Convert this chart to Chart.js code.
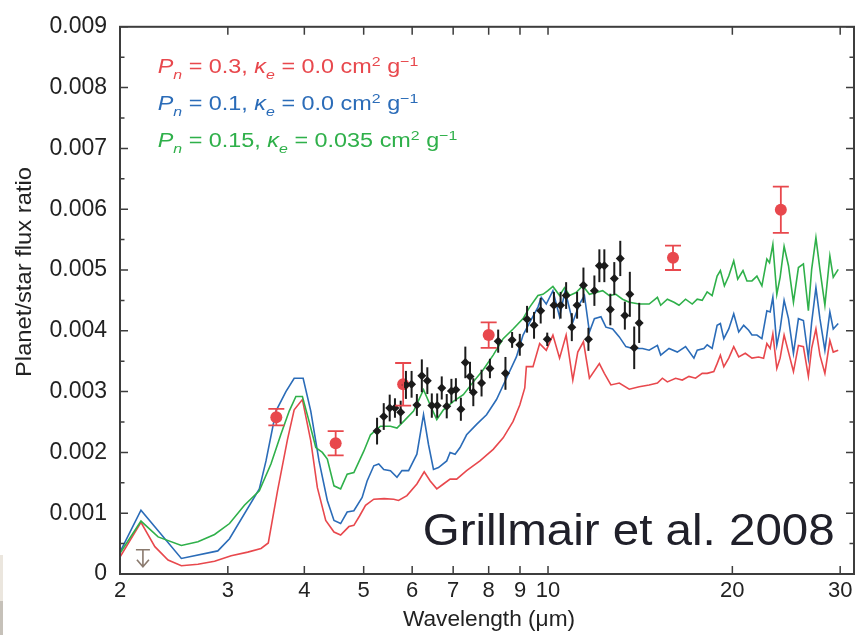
<!DOCTYPE html>
<html>
<head>
<meta charset="utf-8">
<script src="https://cdn.jsdelivr.net/npm/chart.js@4.4.0/dist/chart.umd.min.js"></script>
<style>
  html, body { margin: 0; padding: 0; background: #fff; }
  #wrap { position: relative; width: 860px; height: 635px; }
  canvas { display: block; }
  .edge1 { position: absolute; left: 0; top: 555px; width: 3px; height: 46px; background: #ebe6de; }
  .edge2 { position: absolute; left: 0; top: 601px; width: 3px; height: 34px; background: #c6c1b9; }
</style>
</head>
<body>
<div id="wrap">
  <canvas id="c" width="860" height="635"></canvas>
  <div class="edge1"></div><div class="edge2"></div>
</div>
<script>
// model spectra (wavelength in micron, planet/star flux ratio)
const redWl = [2.00,2.164,2.28,2.396,2.519,2.681,2.854,3.038,3.233,3.399,3.493,3.617,3.754,3.85,3.971,4.098,4.201,4.335,4.472,4.585,4.73,4.819,4.92,5.035,5.194,5.40,5.597,5.70,5.883,6.107,6.278,6.421,6.582,6.749,6.92,7.093,7.363,7.742,8.137,8.448,8.77,8.993,9.163,9.218,9.451,9.691,9.934,10.186,10.444,10.705,10.977,11.184,11.425,11.685,12.13,12.359,12.668,13.074,13.572,14.09,14.627,15.089,15.374,15.664,16.157,16.568,16.989,17.414,17.856,18.193,18.654,18.887,19.12,19.367,19.732,20.104,20.484,20.996,21.529,22.075,22.493,22.772,23.056,23.29,23.64,23.935,24.297,24.699,25.165,25.641,26.125,26.618,26.948,27.385,27.799,28.324,28.859,29.228,29.78];
const redFlux = [0.00028,0.00085,0.00045,0.00023,0.000135,0.00016,0.00021,0.0003,0.00036,0.00042,0.00051,0.00137,0.00221,0.0027,0.00287,0.00219,0.00142,0.00088,0.00069,0.00064,0.00078,0.0008,0.00095,0.00113,0.00123,0.00124,0.00123,0.00121,0.00129,0.00148,0.00168,0.00153,0.0014,0.00148,0.00156,0.00156,0.0017,0.00186,0.00205,0.00224,0.00251,0.00278,0.00306,0.00341,0.00341,0.00379,0.00368,0.00393,0.00355,0.00393,0.00319,0.00365,0.00382,0.00322,0.00346,0.0033,0.00311,0.00314,0.00304,0.00308,0.00311,0.00314,0.00322,0.00316,0.00322,0.00319,0.00325,0.00322,0.0033,0.0033,0.00333,0.00346,0.0036,0.00341,0.00355,0.00374,0.00357,0.00363,0.00355,0.00357,0.00355,0.00379,0.00371,0.00395,0.00338,0.00355,0.00393,0.00365,0.00333,0.00376,0.00374,0.00325,0.00371,0.00403,0.0036,0.0033,0.00384,0.00365,0.00368];

const blueWl = [2.00,2.164,2.519,2.889,3.019,3.377,3.463,3.595,3.732,3.85,3.982,4.098,4.227,4.361,4.472,4.585,4.699,4.819,4.971,5.065,5.194,5.292,5.392,5.529,5.667,5.774,5.92,6.107,6.262,6.38,6.501,6.624,6.833,6.92,7.051,7.184,7.363,7.644,7.936,8.239,8.553,8.879,9.104,9.335,9.629,9.749,9.934,10.186,10.444,10.665,10.977,11.256,11.468,11.685,11.905,12.203,12.433,12.75,13.074,13.401,13.74,14.266,14.627,15.089,15.276,15.763,16.261,16.773,17.309,17.525,17.969,18.193,18.537,18.887,19.12,19.367,19.732,20.104,20.484,20.87,21.265,21.529,21.935,22.35,22.772,23.056,23.29,23.64,23.935,24.297,24.699,25.165,25.641,26.125,26.618,26.948,27.385,27.799,28.324,28.859,29.228,29.78];
const blueFlux = [0.00036,0.00105,0.000256,0.00038,0.00058,0.0014,0.00186,0.00268,0.0030,0.00322,0.00322,0.00268,0.00186,0.00121,0.00088,0.00083,0.00102,0.00104,0.00126,0.00153,0.00178,0.00181,0.00172,0.0017,0.00159,0.0017,0.0017,0.00197,0.00262,0.00213,0.00172,0.00175,0.00186,0.002,0.00197,0.00208,0.00229,0.00246,0.00262,0.00287,0.00322,0.00357,0.00393,0.00414,0.00439,0.00455,0.00444,0.00466,0.00423,0.00466,0.00414,0.00444,0.00458,0.00398,0.0042,0.00423,0.00406,0.00403,0.0039,0.00374,0.00371,0.00371,0.00368,0.00376,0.0036,0.00371,0.00365,0.00374,0.00355,0.00368,0.00371,0.00377,0.00371,0.00409,0.00412,0.00387,0.00403,0.00428,0.00398,0.00409,0.00401,0.00393,0.00393,0.00387,0.00433,0.00431,0.00455,0.00376,0.00403,0.0045,0.0042,0.00363,0.0042,0.00417,0.00355,0.00414,0.00471,0.0042,0.00368,0.00431,0.00403,0.00412];

const greenWl = [2.00,2.164,2.308,2.519,2.681,2.854,3.019,3.193,3.377,3.528,3.663,3.779,3.875,3.971,4.072,4.176,4.28,4.361,4.472,4.585,4.699,4.819,5.002,5.13,5.325,5.529,5.667,5.81,6.032,6.262,6.421,6.582,6.749,7.006,7.273,7.551,7.838,8.137,8.448,8.77,9.104,9.335,9.629,9.811,9.996,10.186,10.444,10.641,10.843,11.114,11.395,11.685,11.977,12.281,12.592,12.907,13.235,13.572,14.09,14.627,15.089,15.276,15.664,16.06,16.364,16.773,17.199,17.525,17.856,18.193,18.537,18.887,19.12,19.41,19.732,20.104,20.408,20.817,21.13,21.529,21.935,22.35,22.772,23.0,23.29,23.64,23.935,24.297,24.699,25.165,25.641,26.125,26.618,26.948,27.385,27.799,28.324,28.859,29.228,29.78];
const greenFlux = [0.00034,0.00087,0.00061,0.00047,0.00053,0.00065,0.00083,0.00113,0.00137,0.00181,0.0023,0.00268,0.00292,0.00292,0.00251,0.00208,0.002,0.00189,0.00145,0.0014,0.00164,0.00167,0.00202,0.00229,0.00243,0.00243,0.0024,0.00251,0.00268,0.00303,0.00278,0.00254,0.0027,0.00284,0.00295,0.00316,0.00336,0.0036,0.00387,0.00403,0.0042,0.00439,0.00458,0.0046,0.00466,0.00473,0.00458,0.00471,0.00458,0.00463,0.00474,0.0046,0.00463,0.00466,0.00458,0.0046,0.00452,0.00447,0.00444,0.00444,0.00455,0.00442,0.00452,0.00447,0.00442,0.00452,0.00444,0.00452,0.0045,0.00464,0.00458,0.0049,0.00499,0.00474,0.0049,0.00515,0.00485,0.00499,0.00482,0.00482,0.0049,0.00474,0.00518,0.00512,0.00542,0.0046,0.00488,0.00539,0.00507,0.00447,0.00504,0.0051,0.00433,0.00501,0.00553,0.00501,0.00442,0.00523,0.00488,0.00501];

// IRS spectrum points
const irsWl = [5.258,5.392,5.514,5.624,5.746,5.861,5.987,6.107,6.222,6.352,6.46,6.592,6.706,6.833,6.954,7.072,7.206,7.328,7.458,7.551,7.789,8.038,8.291,8.521,8.737,8.993,9.242,9.488,9.728,9.971,10.224,10.484,10.705,10.936,11.155,11.425,11.641,11.905,12.13,12.359,12.641,12.83,13.122,13.35,13.602,13.828,14.09];
const irsFlux = [0.00235,0.00259,0.00273,0.00273,0.00266,0.00311,0.00312,0.00278,0.00326,0.00318,0.00277,0.00277,0.00306,0.00276,0.00301,0.00303,0.00271,0.00348,0.00325,0.00299,0.00314,0.00338,0.00383,0.0033,0.00385,0.00377,0.00419,0.00409,0.00433,0.00386,0.00442,0.00442,0.00458,0.00406,0.00442,0.00475,0.00386,0.00466,0.00507,0.00507,0.00435,0.00486,0.00519,0.00425,0.0046,0.00372,0.00413];
const irsErr = [0.00022,0.00022,0.00022,0.00016,0.00019,0.00023,0.00022,0.00018,0.00027,0.00022,0.0002,0.0002,0.00019,0.0002,0.0002,0.00019,0.00019,0.00026,0.00024,0.00023,0.00022,0.00016,0.00019,0.00027,0.00013,0.00018,0.00022,0.00022,0.00021,0.00011,0.00022,0.00022,0.00022,0.00023,0.00022,0.00029,0.00019,0.00025,0.00027,0.00027,0.00026,0.00027,0.00029,0.00023,0.00037,0.00035,0.00033];

// broadband photometry
const photWl = [3.6, 4.5, 5.8, 8.0, 16, 24];
const photFlux = [0.00258, 0.00215, 0.00312, 0.00393, 0.0052, 0.00599];
const photErr = [0.000135, 0.0002, 0.00035, 0.00021, 0.0002, 0.00038];

// 2.2 micron upper limit
const ulWl = [2.18];
const ulFlux = [0.0004];
const ulTip = [0.00012];

const xTicks = [2, 3, 4, 5, 6, 7, 8, 9, 10, 20, 30];
const legendPn = ['0.3', '0.1', '0.15'];
const legendKe = ['0.0', '0.0', '0.035'];

const RED = '#e8484d', BLUE = '#2b6cb8', GREEN = '#2fb04a', BLACK = '#1b1b1b';
const FONT = '"Liberation Sans", Arial, Helvetica, sans-serif';

Chart.defaults.font.family = FONT;
Chart.defaults.color = '#222';

const pts = (xs, ys) => xs.map((x, i) => ({ x: x, y: ys[i] }));

function drawRuns(ctx, x, y, runs, color, size, sx) {
  ctx.save();
  ctx.translate(x, y);
  ctx.scale(sx, 1);
  ctx.fillStyle = color;
  ctx.textBaseline = 'alphabetic';
  ctx.textAlign = 'left';
  let cx = 0;
  runs.forEach(r => {
    const small = r.sub || r.sup;
    const fs = small ? size * 0.68 : size;
    ctx.font = (r.it ? 'italic ' : '') + fs + 'px ' + FONT;
    const dy = r.sub ? size * 0.32 : (r.sup ? -size * 0.36 : 0);
    ctx.fillText(r.t, cx, dy);
    cx += ctx.measureText(r.t).width;
  });
  ctx.restore();
}

const decorations = {
  id: 'decorations',
  afterDatasetsDraw(chart) {
    const ctx = chart.ctx, x = chart.scales.x, y = chart.scales.y;
    ctx.save();
    // IRS error bars
    ctx.strokeStyle = BLACK;
    ctx.lineWidth = 2;
    irsWl.forEach((w, i) => {
      const px = x.getPixelForValue(w);
      ctx.beginPath();
      ctx.moveTo(px, y.getPixelForValue(irsFlux[i] + irsErr[i]));
      ctx.lineTo(px, y.getPixelForValue(irsFlux[i] - irsErr[i]));
      ctx.stroke();
    });
    // photometry error bars with caps
    ctx.strokeStyle = RED;
    ctx.lineWidth = 1.8;
    photWl.forEach((w, i) => {
      const px = x.getPixelForValue(w);
      const t = y.getPixelForValue(photFlux[i] + photErr[i]);
      const b = y.getPixelForValue(photFlux[i] - photErr[i]);
      ctx.beginPath();
      ctx.moveTo(px, t); ctx.lineTo(px, b);
      ctx.moveTo(px - 8, t); ctx.lineTo(px + 8, t);
      ctx.moveTo(px - 8, b); ctx.lineTo(px + 8, b);
      ctx.stroke();
    });
    // upper limit arrow
    ctx.strokeStyle = '#8a7a6e';
    ctx.lineWidth = 1.6;
    ulWl.forEach((w, i) => {
      const px = x.getPixelForValue(w);
      const t = y.getPixelForValue(ulFlux[i]);
      const b = y.getPixelForValue(ulTip[i]);
      ctx.beginPath();
      ctx.moveTo(px - 7, t); ctx.lineTo(px + 7, t);
      ctx.moveTo(px, t); ctx.lineTo(px, b);
      ctx.moveTo(px - 6, b - 7); ctx.lineTo(px, b); ctx.lineTo(px + 6, b - 7);
      ctx.stroke();
    });
    ctx.restore();
  },
  afterDraw(chart) {
    const ctx = chart.ctx, x = chart.scales.x, y = chart.scales.y;
    const a = chart.chartArea;
    ctx.save();
    // frame
    ctx.strokeStyle = '#3d3d3d';
    ctx.lineWidth = 2;
    ctx.strokeRect(a.left, a.top, a.right - a.left, a.bottom - a.top);
    // inward ticks
    ctx.lineWidth = 1.5;
    ctx.beginPath();
    for (let i = 0; i <= 18; i++) {
      const py = y.getPixelForValue(i * 0.0005);
      const len = i % 2 === 0 ? 8 : 4.5;
      ctx.moveTo(a.left, py); ctx.lineTo(a.left + len, py);
      ctx.moveTo(a.right, py); ctx.lineTo(a.right - len, py);
    }
    xTicks.forEach(v => {
      const px = x.getPixelForValue(v);
      ctx.moveTo(px, a.bottom); ctx.lineTo(px, a.bottom - 8);
      ctx.moveTo(px, a.top); ctx.lineTo(px, a.top + 8);
    });
    ctx.stroke();

    // axis titles
    ctx.fillStyle = '#222';
    ctx.font = '22px ' + FONT;
    ctx.textAlign = 'center';
    ctx.textBaseline = 'middle';
    ctx.save();
    ctx.translate(489, 620);
    ctx.scale(1.03, 1);
    ctx.fillText('Wavelength (μm)', 0, 0);
    ctx.restore();
    ctx.save();
    ctx.translate(25, 272);
    ctx.rotate(-Math.PI / 2);
    ctx.scale(1.08, 1);
    ctx.fillText('Planet/star flux ratio', 0, 0);
    ctx.restore();

    // model labels
    const colors = [RED, BLUE, GREEN];
    const baselines = [72.7, 110, 146.7];
    legendPn.forEach((pn, i) => {
      const runs = [
        { t: 'P', it: true }, { t: 'n', it: true, sub: true },
        { t: ' = ' + pn + ', ' }, { t: 'κ', it: true }, { t: 'e', it: true, sub: true },
        { t: ' = ' + legendKe[i] + ' cm' }, { t: '2', sup: true },
        { t: ' g' }, { t: '−1', sup: true }
      ];
      drawRuns(ctx, 157.7, baselines[i], runs, colors[i], 20, 1.17);
    });

    // citation
    drawRuns(ctx, 422.7, 545, [{ t: 'Grillmair et al. 2008' }], '#20202a', 44, 1.08);
    ctx.restore();
  }
};

new Chart(document.getElementById('c'), {
  type: 'line',
  data: {
    datasets: [
      { type: 'scatter', data: pts(irsWl, irsFlux), pointStyle: 'rectRot', pointRadius: 4.5,
        backgroundColor: BLACK, borderWidth: 0, order: 0 },
      { type: 'scatter', data: pts(photWl, photFlux), pointRadius: 6,
        backgroundColor: RED, borderWidth: 0, order: 1 },
      { data: pts(greenWl, greenFlux), borderColor: GREEN, borderWidth: 1.6, pointRadius: 0, order: 2 },
      { data: pts(blueWl, blueFlux), borderColor: BLUE, borderWidth: 1.6, pointRadius: 0, order: 3 },
      { data: pts(redWl, redFlux), borderColor: RED, borderWidth: 1.6, pointRadius: 0, order: 4 }
    ]
  },
  options: {
    responsive: false,
    animation: false,
    devicePixelRatio: 1,
    layout: { padding: { top: 22, right: 2, left: 0, bottom: 0 } },
    plugins: { legend: { display: false }, tooltip: { enabled: false } },
    scales: {
      x: {
        type: 'logarithmic',
        min: 2,
        max: 31.6,
        grid: { display: false, drawTicks: false },
        border: { display: false },
        afterBuildTicks: axis => { axis.ticks = xTicks.map(v => ({ value: v })); },
        afterFit: axis => { axis.height = 61; },
        ticks: { autoSkip: false, maxRotation: 0, padding: 4, font: { size: 22 }, color: '#222',
          callback: v => String(v) }
      },
      y: {
        min: 0,
        max: 0.009,
        grid: { display: false, drawTicks: false },
        border: { display: false },
        afterFit: axis => { axis.width = 120; },
        ticks: { stepSize: 0.001, padding: 13, font: { size: 23 }, color: '#222',
          callback: v => v === 0 ? '0' : v.toFixed(3) }
      }
    }
  },
  plugins: [decorations]
});
</script>
</body>
</html>
